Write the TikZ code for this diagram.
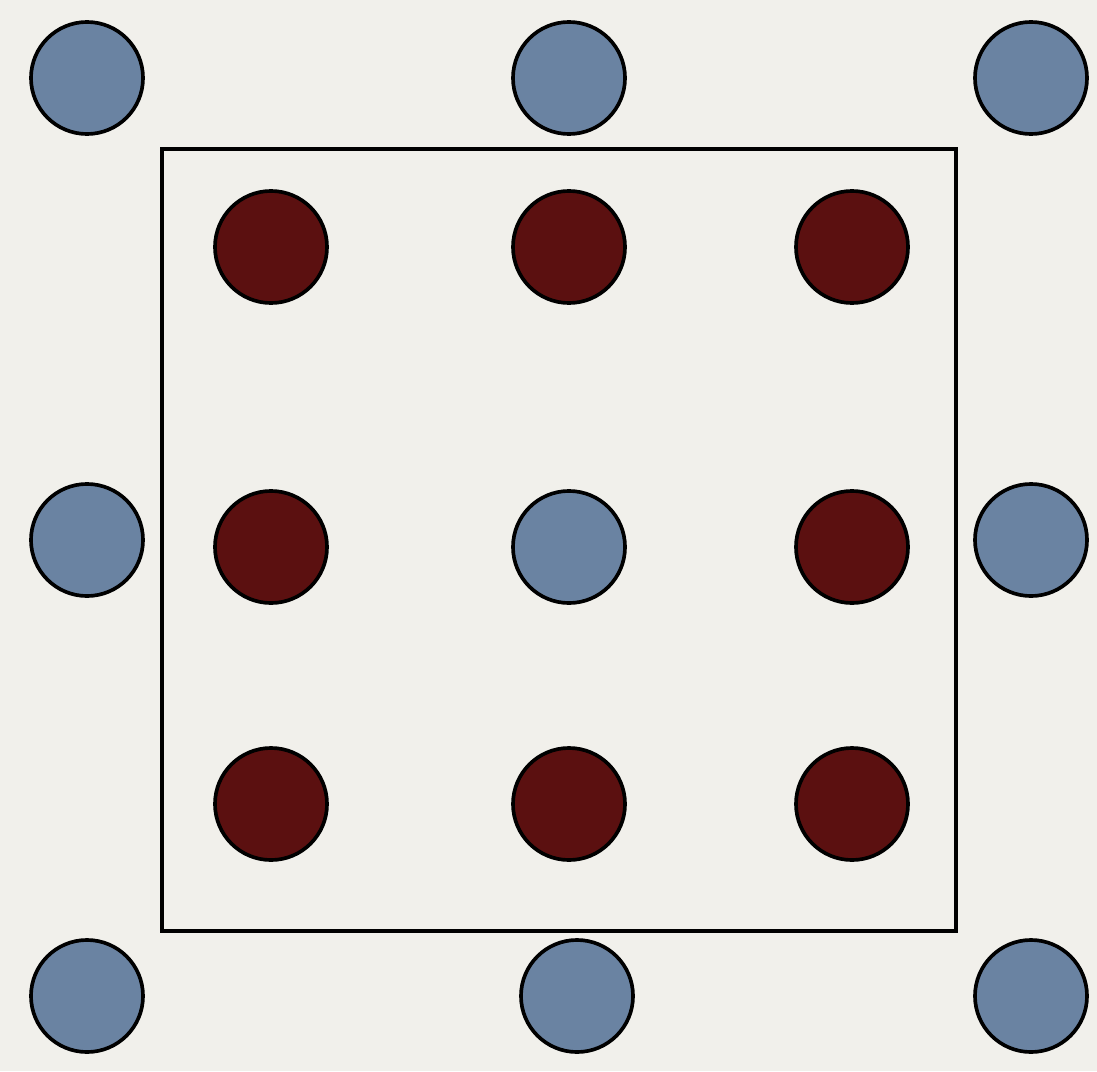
\documentclass[tikz,border=0pt]{standalone}
\usepackage{xcolor}
\usepackage{tikz}
\usetikzlibrary{positioning}
\definecolor{paper}{HTML}{F1F0EB}
\definecolor{steel}{HTML}{6A83A2}
\definecolor{maroon}{HTML}{5B1010}
\tikzset{
  outer/.style={
    circle, minimum size=2.8cm, inner sep=0pt,
    draw=black, line width=2.6pt, fill=steel,
  },
  inner/.style={
    circle, minimum size=2.8cm, inner sep=0pt,
    draw=black, line width=2.6pt, fill=maroon,
  },
  frame/.style={draw=black, line width=3.2pt},
}
\begin{document}
\begin{tikzpicture}[x=0.025cm, y=-0.025cm]

  % Background
  \fill[paper] (0,0) rectangle (1097,1071);
  \useasboundingbox (0,0) rectangle (1097,1071);

  % Square
  \draw[frame] (162,149) rectangle (956,931);

  % Outer sites
  \node[outer] (tl) at (87,78) {};
  \node[outer] (tm) at (569,78) {};
  \node[outer] (tr) at (1031,78) {};
  \node[outer] (ml) at (87,540) {};
  \node[outer] (mr) at (1031,540) {};
  \node[outer] (bl) at (87,996) {};
  \node[outer] (bm) at (577,996) {};
  \node[outer] (br) at (1031,996) {};

  % Centre site
  \node[outer] (cc) at (569,547) {};

  % Inner sites
  \node[inner] (a1) at (271,247) {};
  \node[inner] (a2) at (569,247) {};
  \node[inner] (a3) at (852,247) {};
  \node[inner] (b1) at (271,547) {};
  \node[inner] (b3) at (852,547) {};
  \node[inner] (c1) at (271,804) {};
  \node[inner] (c2) at (569,804) {};
  \node[inner] (c3) at (852,804) {};

\end{tikzpicture}
\end{document}
